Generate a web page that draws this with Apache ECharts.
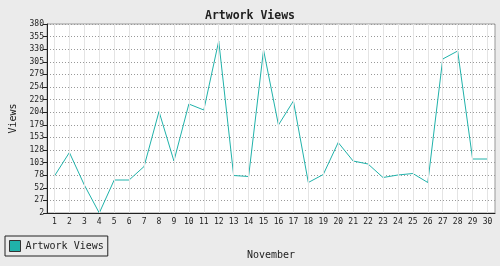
<!DOCTYPE html>
<html>
<head>
<meta charset="utf-8">
<script src="https://cdn.jsdelivr.net/npm/echarts@6/dist/echarts.min.js"></script>
<style>
html,body{margin:0;padding:0;background:#ebebeb;}
#chart{width:500px;height:266px;}
</style>
</head>
<body>
<div id="chart"></div>
<script>
var days = ['1','2','3','4','5','6','7','8','9','10','11','12','13','14','15','16','17','18','19','20','21','22','23','24','25','26','27','28','29','30'];
var views = [76, 123, 58, 2, 68, 68, 95, 205, 106, 220, 208, 346, 77, 75, 328, 178, 226, 63, 79, 143, 106, 100, 73, 78, 81, 63, 310, 326, 110, 110];
var yTickValues = [2, 27.2, 52.4, 77.6, 102.8, 128, 153.2, 178.4, 203.6, 228.8, 254, 279.2, 304.4, 329.6, 354.8, 380];
var yTickLabels = ['2','27','52','78','103','128','153','179','204','229','254','279','305','330','355','380'];

var font = 'DejaVu Sans Mono';
var chart = echarts.init(document.getElementById('chart'), null, {renderer: 'canvas'});
chart.setOption({
  backgroundColor: '#ebebeb',
  animation: false,
  title: {
    text: 'Artwork Views', left: 'center', top: 5,
    textStyle: {fontFamily: font, fontSize: 11.5, fontWeight: 'bold', color: '#222'}
  },
  legend: {
    left: 5, top: 236, orient: 'horizontal',
    data: ['Artwork Views'],
    icon: 'rect', itemWidth: 11, itemHeight: 11, itemGap: 4,
    padding: [4, 4, 4, 4],
    borderColor: '#222', borderWidth: 1, borderRadius: 0,
    backgroundColor: '#ebebeb',
    itemStyle: {borderColor: '#333', borderWidth: 1},
    textStyle: {fontFamily: font, fontSize: 10, color: '#222', padding: [0, 0, 0, 0]}
  },
  grid: {
    left: 40, right: 5, top: 24, bottom: 53,
    show: true, backgroundColor: '#ffffff', borderColor: '#999', borderWidth: 1
  },
  xAxis: {
    type: 'category', data: days, boundaryGap: true,
    name: 'November', nameLocation: 'middle', nameGap: 37,
    nameTextStyle: {fontFamily: font, fontSize: 10, color: '#222'},
    axisLine: {lineStyle: {color: '#222', width: 1}},
    axisTick: {alignWithLabel: true, length: 4, lineStyle: {color: '#222'}},
    axisLabel: {fontFamily: font, fontSize: 8, color: '#222', margin: 5, interval: 0},
    splitLine: {show: false}
  },
  yAxis: {
    type: 'value', min: 2, max: 380,
    name: 'Views', nameLocation: 'middle', nameGap: 29, nameRotate: 90,
    nameTextStyle: {fontFamily: font, fontSize: 10, color: '#222'},
    axisLine: {show: true, lineStyle: {color: '#222', width: 1}},
    axisTick: {show: true, length: 4, lineStyle: {color: '#222'}, customValues: yTickValues},
    axisLabel: {
      fontFamily: font, fontSize: 8, color: '#222', margin: 3,
      customValues: yTickValues,
      formatter: function (v) {
        var best = 0, d = Infinity;
        for (var i = 0; i < yTickValues.length; i++) {
          var dd = Math.abs(yTickValues[i] - v);
          if (dd < d) { d = dd; best = i; }
        }
        return yTickLabels[best];
      }
    },
    splitLine: {show: true, lineStyle: {color: '#999', type: [1, 2], width: 1}}
  },
  series: [{
    name: 'Artwork Views', type: 'line', data: views,
    symbol: 'none', showSymbol: false,
    lineStyle: {color: '#20b2aa', width: 1},
    itemStyle: {color: '#20b2aa'},
    z: 3,
    markLine: {
      silent: true, symbol: ['none', 'none'], animation: false,
      label: {show: false},
      lineStyle: {color: '#e4e4e4', type: 'solid', width: 1},
      data: days.map(function (d) { return {xAxis: d}; })
    }
  }]
});
</script>
</body>
</html>
